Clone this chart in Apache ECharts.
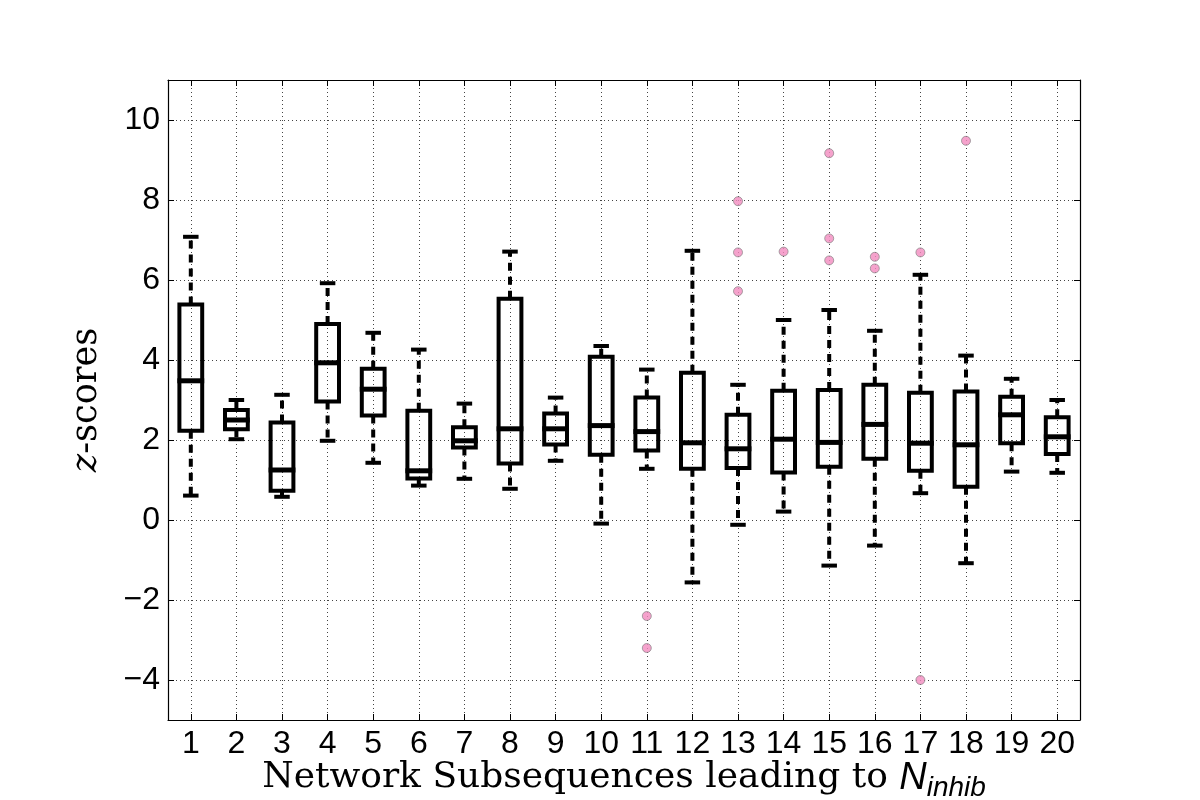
<!DOCTYPE html>
<html>
<head>
<meta charset="utf-8">
<script src="https://cdn.jsdelivr.net/npm/echarts@6/dist/echarts.min.js"></script>
<style>
  html, body { margin: 0; padding: 0; background: #fff; }
  #chart { width: 1200px; height: 800px; }
</style>
</head>
<body>
<div id="chart"></div>
<script>
// subsequence numbers on the x axis
const categories = [1, 2, 3, 4, 5, 6, 7, 8, 9, 10, 11, 12, 13, 14, 15, 16, 17, 18, 19, 20];

// box statistics
const lowWhisker  = [0.61, 2.02, 0.58, 1.98, 1.43, 0.86, 1.03, 0.78, 1.48, -0.09, 1.28, -1.56, -0.12, 0.21, -1.14, -0.64, 0.67, -1.08, 1.21, 1.18];
const q1          = [2.23, 2.27, 0.73, 2.96, 2.61, 1.04, 1.81, 1.41, 1.89, 1.63, 1.74, 1.28, 1.30, 1.19, 1.33, 1.53, 1.23, 0.83, 1.92, 1.65];
const median      = [3.48, 2.50, 1.25, 3.93, 3.27, 1.23, 1.98, 2.28, 2.28, 2.36, 2.21, 1.93, 1.78, 2.02, 1.94, 2.39, 1.92, 1.88, 2.63, 2.08];
const q3          = [5.39, 2.75, 2.44, 4.90, 3.78, 2.73, 2.32, 5.53, 2.66, 4.08, 3.06, 3.68, 2.63, 3.23, 3.25, 3.38, 3.18, 3.21, 3.08, 2.57];
const highWhisker = [7.08, 3.00, 3.13, 5.92, 4.68, 4.26, 2.91, 6.71, 3.06, 4.35, 3.76, 6.73, 3.38, 5.00, 5.25, 4.73, 6.13, 4.11, 3.53, 3.00];

// fliers: [subsequence, z-score]
const outliers = [
  [11, -2.40], [11, -3.20],
  [13, 7.97], [13, 6.69], [13, 5.72],
  [14, 6.71],
  [15, 9.17], [15, 7.04], [15, 6.49],
  [16, 6.58], [16, 6.29],
  [17, 6.69], [17, -4.00],
  [18, 9.48]
];

const yTicks = [-4, -2, 0, 2, 4, 6, 8, 10];

const boxData = [];
for (let i = 0; i < categories.length; i++) {
  boxData.push([categories[i], lowWhisker[i], q1[i], median[i], q3[i], highWhisker[i]]);
}

const sans = 'Liberation Sans';
const serif = 'DejaVu Serif';

function fmtY(v) {
  if (yTicks.indexOf(v) < 0) return '';
  return v < 0 ? '\u2212' + Math.abs(v) : String(v);
}
function fmtX(v) {
  return categories.indexOf(v) < 0 ? '' : String(v);
}

function renderBox(params, api) {
  const x = api.value(0);
  const lo = api.coord([x, api.value(1)]);
  const b1 = api.coord([x, api.value(2)]);
  const md = api.coord([x, api.value(3)]);
  const b3 = api.coord([x, api.value(4)]);
  const hi = api.coord([x, api.value(5)]);
  const w = api.size([0.5, 0])[0];
  const cw = api.size([0.34, 0])[0];
  const cx = lo[0];
  const solid = { stroke: '#000', lineWidth: 4, fill: null };
  const dashed = { stroke: '#000', lineWidth: 4, lineDash: [8, 6], fill: null };
  return {
    type: 'group',
    children: [
      { type: 'line', shape: { x1: cx, y1: b1[1], x2: cx, y2: lo[1] }, style: dashed },
      { type: 'line', shape: { x1: cx, y1: b3[1], x2: cx, y2: hi[1] }, style: dashed },
      { type: 'line', shape: { x1: cx - cw / 2, y1: lo[1], x2: cx + cw / 2, y2: lo[1] }, style: solid },
      { type: 'line', shape: { x1: cx - cw / 2, y1: hi[1], x2: cx + cw / 2, y2: hi[1] }, style: solid },
      { type: 'rect', shape: { x: cx - w / 2, y: b3[1], width: w, height: b1[1] - b3[1] }, style: solid },
      { type: 'line', shape: { x1: cx - w / 2 - 2, y1: md[1], x2: cx + w / 2 + 2, y2: md[1] }, style: { stroke: '#000', lineWidth: 5 } }
    ]
  };
}

const chart = echarts.init(document.getElementById('chart'), null, { renderer: 'canvas' });

const xBase = {
  type: 'value', min: 0.5, max: 20.5, splitNumber: 20,
  axisLine: { show: true, onZero: false, lineStyle: { color: '#000', width: 1.2 } },
  axisTick: { show: true, inside: true, length: 6, lineStyle: { color: '#000', width: 1 } }
};
const yBase = {
  type: 'value', min: -5, max: 11, splitNumber: 8,
  axisLine: { show: true, onZero: false, lineStyle: { color: '#000', width: 1.2 } },
  axisTick: { show: true, inside: true, length: 6, lineStyle: { color: '#000', width: 1 } }
};

chart.setOption({
  backgroundColor: '#fff',
  animation: false,
  grid: { left: 168, right: 120, top: 80, bottom: 80, containLabel: false, outerBoundsMode: 'none' },
  xAxis: [
    Object.assign({}, xBase, {
      position: 'bottom',
      axisLabel: { show: true, formatter: fmtX, color: '#000', fontFamily: sans, fontSize: 32, margin: 8, showMinLabel: false, showMaxLabel: false },
      splitLine: { show: true, lineStyle: { color: '#444', width: 1, type: [1, 3] } },
      name: '{t|Network Subsequences leading to }{n|N}{s|inhib}',
      nameLocation: 'middle',
      nameGap: 34,
      nameMoveOverlap: false,
      nameTextStyle: {
        rich: {
          t: { fontFamily: serif, fontSize: 36, color: '#000', lineHeight: 48, verticalAlign: 'middle' },
          n: { fontFamily: sans, fontStyle: 'italic', fontSize: 38, color: '#000', lineHeight: 48, verticalAlign: 'middle' },
          s: { fontFamily: sans, fontStyle: 'italic', fontSize: 28, color: '#000', lineHeight: 48, verticalAlign: 'bottom' }
        }
      }
    }),
    Object.assign({}, xBase, {
      position: 'top',
      axisLabel: { show: false },
      splitLine: { show: false }
    })
  ],
  yAxis: [
    Object.assign({}, yBase, {
      position: 'left',
      axisLabel: { show: true, formatter: fmtY, color: '#000', fontFamily: sans, fontSize: 32, margin: 8, showMinLabel: false, showMaxLabel: false },
      splitLine: { show: true, lineStyle: { color: '#444', width: 1, type: [1, 3] } },
      name: '{z|z}{t|-scores}',
      nameLocation: 'middle',
      nameGap: 64,
      nameMoveOverlap: false,
      nameTextStyle: {
        rich: {
          z: { fontFamily: serif, fontStyle: 'italic', fontSize: 35, color: '#000' },
          t: { fontFamily: serif, fontSize: 35, color: '#000' }
        }
      }
    }),
    Object.assign({}, yBase, {
      position: 'right',
      axisLabel: { show: false },
      splitLine: { show: false }
    })
  ],
  series: [
    {
      type: 'custom',
      xAxisIndex: 0,
      yAxisIndex: 0,
      renderItem: renderBox,
      encode: { x: 0, y: [1, 2, 3, 4, 5] },
      data: boxData,
      z: 3
    },
    {
      type: 'scatter',
      xAxisIndex: 0,
      yAxisIndex: 0,
      symbol: 'circle',
      symbolSize: 9,
      itemStyle: { color: '#f28bbf', borderColor: '#7a7a7a', borderWidth: 0.8 },
      data: outliers,
      z: 4
    }
  ]
});
</script>
</body>
</html>
